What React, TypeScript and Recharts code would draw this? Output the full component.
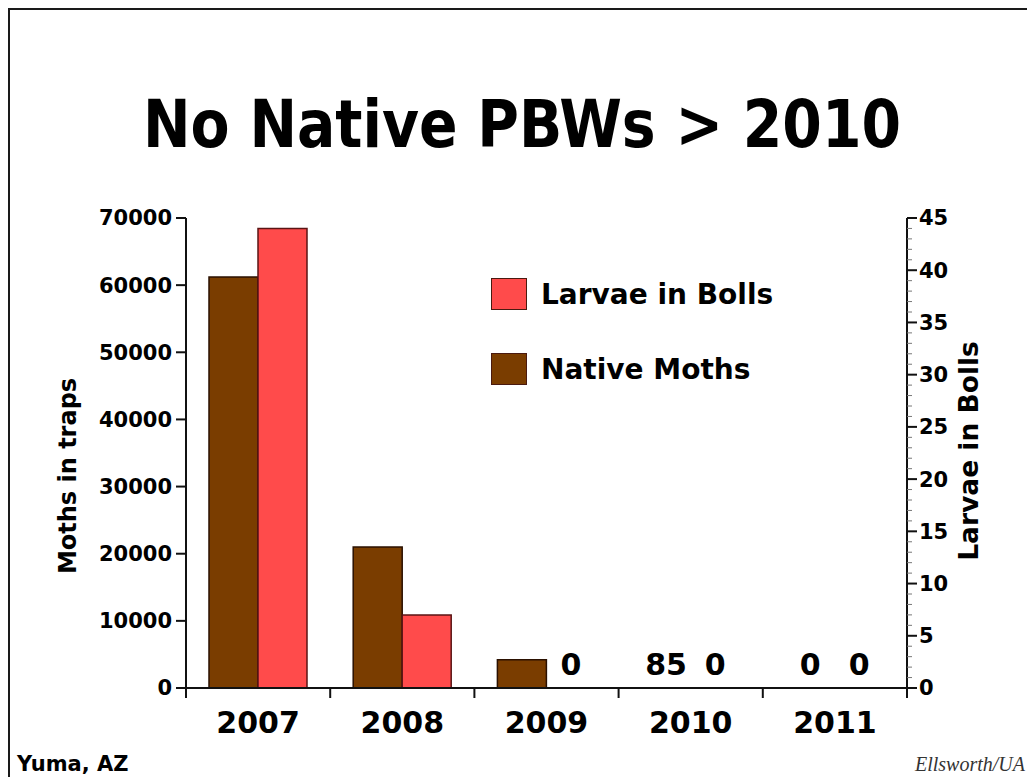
import React from 'react';
import { BarChart, Bar, XAxis, YAxis, Legend, LabelList, Label, Rectangle } from 'recharts';

const years = ['2007', '2008', '2009', '2010', '2011'];
const nativeMoths = [61200, 21000, 4200, 85, 0];
const larvaeInBolls = [44, 7, 0, 0, 0];
const mothLabels: (string | null)[] = [null, null, null, '85', '0'];
const larvaeLabels: (string | null)[] = [null, null, '0', '0', '0'];
const mothTicks = [0, 10000, 20000, 30000, 40000, 50000, 60000, 70000];
const larvaeMajorTicks = [0, 5, 10, 15, 20, 25, 30, 35, 40, 45];
const larvaeAllTicks = [
  0, 1, 2, 3, 4, 5, 6, 7, 8, 9, 10, 11, 12, 13, 14, 15, 16, 17, 18, 19, 20, 21, 22,
  23, 24, 25, 26, 27, 28, 29, 30, 31, 32, 33, 34, 35, 36, 37, 38, 39, 40, 41, 42, 43, 44, 45,
];
const legendOrder = ['Larvae in Bolls', 'Native Moths'];

const data = years.map((y, i) => ({
  year: y,
  moths: nativeMoths[i],
  larvae: larvaeInBolls[i],
  mothLabel: mothLabels[i],
  larvaeLabel: larvaeLabels[i],
}));

const FONT = '"DejaVu Sans", Verdana, sans-serif';
const BROWN = '#7a3d00';
const RED = '#ff4b4b';
const AXIS = '#111';
const X_TICK_MARGIN = 24;

const renderLegend = (props: any) => {
  const payload = (props.payload || [])
    .slice()
    .sort((a: any, b: any) => legendOrder.indexOf(a.value) - legendOrder.indexOf(b.value));
  return (
    <div style={{ fontFamily: FONT }}>
      {payload.map((p: any, i: number) => (
        <div
          key={i}
          style={{ display: 'flex', alignItems: 'center', height: 34, marginBottom: i === 0 ? 41 : 0 }}
        >
          <span
            style={{
              display: 'inline-block',
              width: 36,
              height: 32,
              background: p.color,
              border: '1px solid #4a1a10',
              boxSizing: 'border-box',
            }}
          />
          <span style={{ marginLeft: 14, fontSize: 28, fontWeight: 'bold', color: '#000', whiteSpace: 'nowrap' }}>
            {p.value}
          </span>
        </div>
      ))}
    </div>
  );
};

const leftTitle = (props: any) => {
  const vb = props.viewBox || { x: 36, y: 218, width: 150, height: 470 };
  const cx = vb.x + vb.width - 118;
  const cy = vb.y + vb.height / 2 + 23;
  return (
    <text
      x={cx}
      y={cy}
      transform={`rotate(-90 ${cx} ${cy})`}
      textAnchor="middle"
      dominantBaseline="central"
      fontFamily={FONT}
      fontWeight="bold"
      fontSize={24}
      fill="#000"
    >
      Moths in traps
    </text>
  );
};

const rightTitle = (props: any) => {
  const vb = props.viewBox || { x: 907, y: 218, width: 100, height: 470 };
  const cx = vb.x + 61;
  const cy = vb.y + vb.height / 2 - 2;
  return (
    <text
      x={cx}
      y={cy}
      transform={`rotate(-90 ${cx} ${cy})`}
      textAnchor="middle"
      dominantBaseline="central"
      fontFamily={FONT}
      fontWeight="bold"
      fontSize={26.5}
      fill="#000"
    >
      Larvae in Bolls
    </text>
  );
};

// category tick: year label plus tick marks at the category boundaries
const YearTick = (props: any) => {
  const { x, y, payload, index, visibleTicksCount } = props;
  const half = payload && typeof payload.offset === 'number' && payload.offset > 0 ? payload.offset : 72.1;
  const axisY = y - X_TICK_MARGIN;
  const isLast = index === (visibleTicksCount || years.length) - 1;
  return (
    <g>
      <line x1={x - half} x2={x - half} y1={axisY} y2={axisY + 10} stroke={AXIS} strokeWidth={2} />
      {isLast && <line x1={x + half} x2={x + half} y1={axisY} y2={axisY + 10} stroke={AXIS} strokeWidth={2} />}
      <text
        x={x}
        y={y}
        dy="0.71em"
        textAnchor="middle"
        fontFamily={FONT}
        fontWeight="bold"
        fontSize={30}
        fill="#000"
      >
        {payload.value}
      </text>
    </g>
  );
};

// right axis tick: long ticks + labels at multiples of 5, short minor ticks otherwise
const LarvaeTick = (props: any) => {
  const { x, y, payload } = props;
  const v = payload.value;
  const major = larvaeMajorTicks.indexOf(v) >= 0;
  return (
    <g>
      <line
        x1={x}
        x2={x + (major ? 10 : 5)}
        y1={y}
        y2={y}
        stroke={major ? AXIS : '#777'}
        strokeWidth={major ? 2 : 1}
      />
      {major && (
        <text
          x={x + 12}
          y={y}
          dy="0.355em"
          textAnchor="start"
          fontFamily={FONT}
          fontWeight="bold"
          fontSize={21}
          fill="#000"
        >
          {v}
        </text>
      )}
    </g>
  );
};

// draw a rectangle only for visible values (zero bars keep a 1px slot so their labels render)
const makeShape = (key: string) => (props: any) => {
  const v = props.payload ? props.payload[key] : props.value;
  if (!v || (key === 'moths' && v < 100)) return <g />;
  return <Rectangle {...props} />;
};

const tickStyle = { fontSize: 21, fontWeight: 'bold', fill: '#000', fontFamily: FONT };

const labelProps = {
  position: 'top' as const,
  offset: 12,
  fill: '#000',
  fontSize: 30,
  fontWeight: 'bold',
  fontFamily: FONT,
};

export default function App() {
  return (
    <div style={{ position: 'relative', width: 1027, height: 777, background: '#fff', overflow: 'hidden' }}>
      <style>{'body{margin:0;overflow:hidden;}'}</style>
      <div
        style={{
          position: 'absolute',
          left: 8,
          top: 8,
          width: 1040,
          height: 800,
          borderTop: '2px solid #1a1a1a',
          borderLeft: '2px solid #1a1a1a',
          boxSizing: 'border-box',
        }}
      />
      <div style={{ position: 'absolute', left: 0, top: 0 }}>
        <BarChart
          width={1027}
          height={777}
          data={data}
          margin={{ top: 218, right: 20, bottom: 29, left: 36 }}
          barCategoryGap={23}
          barGap={0}
        >
          <XAxis
            xAxisId="cat"
            dataKey="year"
            height={60}
            interval={0}
            tickLine={false}
            tickSize={0}
            tickMargin={X_TICK_MARGIN}
            axisLine={{ stroke: AXIS, strokeWidth: 2 }}
            tick={YearTick}
          />
          <YAxis
            yAxisId="moths"
            orientation="left"
            width={150}
            domain={[0, 70000]}
            ticks={mothTicks}
            interval={0}
            tickSize={10}
            tickMargin={4}
            axisLine={{ stroke: AXIS, strokeWidth: 2 }}
            tickLine={{ stroke: AXIS, strokeWidth: 2 }}
            tick={tickStyle}
          >
            <Label content={leftTitle} />
          </YAxis>
          <YAxis
            yAxisId="larvae"
            orientation="right"
            width={100}
            domain={[0, 45]}
            ticks={larvaeAllTicks}
            interval={0}
            tickSize={0}
            tickMargin={0}
            tickLine={false}
            axisLine={{ stroke: AXIS, strokeWidth: 2 }}
            tick={LarvaeTick}
          >
            <Label content={rightTitle} />
          </YAxis>
          <Legend
            layout="vertical"
            verticalAlign="middle"
            align="center"
            content={renderLegend}
            wrapperStyle={{ position: 'absolute', left: 491, top: 277, width: 320 }}
          />
          <Bar
            xAxisId="cat"
            yAxisId="moths"
            dataKey="moths"
            name="Native Moths"
            fill={BROWN}
            stroke="#2a1000"
            strokeWidth={1.5}
            minPointSize={1}
            shape={makeShape('moths')}
            isAnimationActive={false}
          >
            <LabelList dataKey="mothLabel" {...labelProps} />
          </Bar>
          <Bar
            xAxisId="cat"
            yAxisId="larvae"
            dataKey="larvae"
            name="Larvae in Bolls"
            fill={RED}
            stroke="#5a1414"
            strokeWidth={1.5}
            minPointSize={1}
            shape={makeShape('larvae')}
            isAnimationActive={false}
          >
            <LabelList dataKey="larvaeLabel" {...labelProps} />
          </Bar>
        </BarChart>
      </div>
      <svg
        width={1027}
        height={777}
        style={{ position: 'absolute', left: 0, top: 0, pointerEvents: 'none' }}
      >
        <text
          x={522}
          y={147}
          textAnchor="middle"
          fontFamily={FONT}
          fontWeight="bold"
          fontSize={66}
          fill="#000"
          textLength={758}
          lengthAdjust="spacingAndGlyphs"
        >
          No Native PBWs &gt; 2010
        </text>
        <text x={17} y={771} fontFamily={FONT} fontWeight="bold" fontSize={21} fill="#000">
          Yuma, AZ
        </text>
        <text
          x={915}
          y={771}
          fontFamily='"Liberation Serif", "Times New Roman", serif'
          fontStyle="italic"
          fontSize={20}
          fill="#333"
        >
          Ellsworth/UA
        </text>
      </svg>
    </div>
  );
}
